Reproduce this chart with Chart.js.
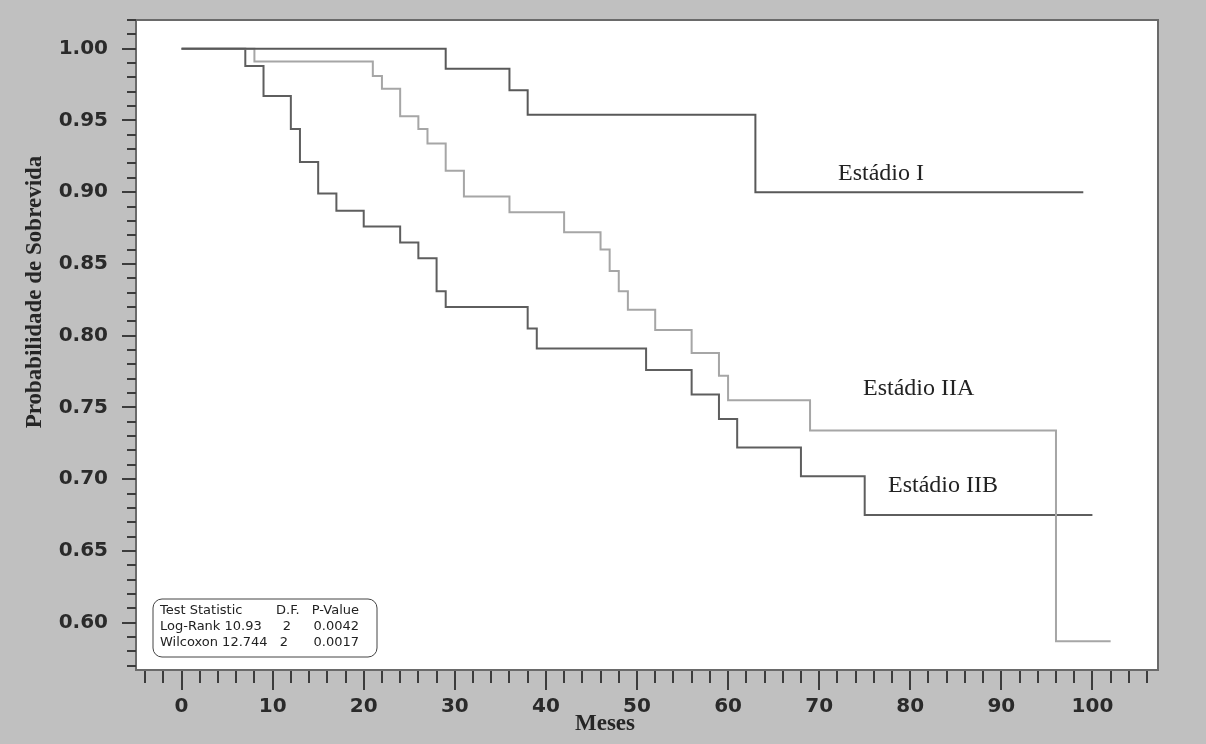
<!DOCTYPE html>
<html lang="pt">
<head>
<meta charset="UTF-8">
<title>Probabilidade de Sobrevida</title>
<script src="https://cdn.jsdelivr.net/npm/chart.js"></script>
<style>
  body { margin: 0; background: #c0c0c0; }
  #wrap { width: 1206px; height: 744px; }
</style>
</head>
<body>
<div id="wrap"><canvas id="myChart" width="1206" height="744"></canvas></div>
<script>
// meses e probabilidade de sobrevida
const mesesI = [0, 29, 36, 38, 63, 99];
const survI = [1.000, 0.986, 0.971, 0.954, 0.900, 0.900];

const mesesIIA = [0, 8, 21, 22, 24, 26, 27, 29, 31, 36, 42, 46, 47, 48, 49, 52, 56, 59, 60, 69, 96, 102];
const survIIA = [1.000, 0.991, 0.981, 0.972, 0.953, 0.944, 0.934, 0.915, 0.897, 0.886, 0.872, 0.860, 0.845, 0.831, 0.818, 0.804, 0.788, 0.772, 0.755, 0.734, 0.587, 0.587];

const mesesIIB = [0, 7, 9, 12, 13, 15, 17, 20, 24, 26, 28, 29, 38, 39, 51, 56, 59, 61, 68, 75, 100];
const survIIB = [1.000, 0.988, 0.967, 0.944, 0.921, 0.899, 0.887, 0.876, 0.865, 0.854, 0.831, 0.820, 0.805, 0.791, 0.776, 0.759, 0.742, 0.722, 0.702, 0.675, 0.675];

const xTicks = [0, 10, 20, 30, 40, 50, 60, 70, 80, 90, 100];
const yTicks = [0.60, 0.65, 0.70, 0.75, 0.80, 0.85, 0.90, 0.95, 1.00];

const testRows = [
  ['Test Statistic', 'D.F.', 'P-Value'],
  ['Log-Rank 10.93', '2', '0.0042'],
  ['Wilcoxon 12.744', '2', '0.0017']
];

const toPoints = (xs, ys) => xs.map((m, i) => ({ x: m, y: ys[i] }));

const tickFont = { family: '"DejaVu Sans", sans-serif', size: 20, weight: 'bold' };

const moldura = {
  id: 'moldura',
  beforeDraw(chart) {
    const { ctx, chartArea: a } = chart;
    ctx.save();
    ctx.fillStyle = '#c0c0c0';
    ctx.fillRect(0, 0, chart.width, chart.height);
    ctx.fillStyle = '#ffffff';
    ctx.fillRect(a.left, a.top, a.right - a.left, a.bottom - a.top);
    ctx.restore();
  },
  afterDraw(chart) {
    const { ctx, chartArea: a, scales: { x, y } } = chart;
    ctx.save();

    // frame
    ctx.strokeStyle = '#6a6a6a';
    ctx.lineWidth = 2;
    ctx.strokeRect(a.left, a.top, a.right - a.left, a.bottom - a.top);

    // tick marks (minor every 0.01 / 2 months)
    ctx.strokeStyle = '#3c3c3c';
    for (let i = 57; i <= 102; i++) {
      const py = Math.round(y.getPixelForValue(i / 100));
      const len = i % 5 === 0 ? 14 : 9;
      ctx.beginPath();
      ctx.moveTo(a.left - len, py);
      ctx.lineTo(a.left, py);
      ctx.stroke();
    }
    for (let m = -4; m <= 106; m += 2) {
      const px = Math.round(x.getPixelForValue(m));
      const len = m % 10 === 0 ? 19 : 12;
      ctx.beginPath();
      ctx.moveTo(px, a.bottom + 1);
      ctx.lineTo(px, a.bottom + 1 + len);
      ctx.stroke();
    }

    // axis titles
    ctx.fillStyle = '#262626';
    ctx.font = 'bold 23px "Liberation Serif", serif';
    ctx.textAlign = 'center';
    ctx.textBaseline = 'middle';
    ctx.fillText('Meses', 605, 724);
    ctx.save();
    ctx.translate(35, 292);
    ctx.rotate(-Math.PI / 2);
    ctx.fillText('Probabilidade de Sobrevida', 0, 0);
    ctx.restore();

    // curve names
    ctx.font = '24px "Liberation Serif", serif';
    ctx.textAlign = 'left';
    ctx.textBaseline = 'alphabetic';
    ctx.fillStyle = '#222';
    ctx.fillText('Estádio I', 838, 180);
    ctx.fillText('Estádio IIA', 863, 395);
    ctx.fillText('Estádio IIB', 888, 492);

    // test box
    const bx = 153, by = 599, bw = 224, bh = 58;
    ctx.beginPath();
    ctx.roundRect(bx, by, bw, bh, 9);
    ctx.fillStyle = '#fff';
    ctx.fill();
    ctx.lineWidth = 1;
    ctx.strokeStyle = '#444';
    ctx.stroke();

    ctx.fillStyle = '#222';
    ctx.font = '13px "DejaVu Sans", sans-serif';
    ctx.textBaseline = 'middle';
    const rowY = [611, 627, 643];
    testRows.forEach((row, i) => {
      ctx.textAlign = 'left';
      ctx.fillText(row[0], 160, rowY[i]);
      if (i === 0) {
        ctx.fillText(row[1], 276, rowY[i]);
      } else {
        ctx.textAlign = 'center';
        ctx.fillText(row[1], i === 1 ? 287 : 284, rowY[i]);
      }
      ctx.textAlign = 'right';
      ctx.fillText(row[2], 359, rowY[i]);
    });

    ctx.restore();
  }
};

const ctx = document.getElementById('myChart');
const myChart = new Chart(ctx, {
  type: 'line',
  data: {
    datasets: [{
      label: 'Estádio I',
      data: toPoints(mesesI, survI),
      borderColor: '#595959',
      borderWidth: 2,
      stepped: true,
      pointRadius: 0
    }, {
      label: 'Estádio IIA',
      data: toPoints(mesesIIA, survIIA),
      borderColor: '#a6a6a6',
      borderWidth: 2,
      stepped: true,
      pointRadius: 0
    }, {
      label: 'Estádio IIB',
      data: toPoints(mesesIIB, survIIB),
      borderColor: '#5e5e5e',
      borderWidth: 2,
      stepped: true,
      pointRadius: 0
    }]
  },
  options: {
    responsive: false,
    animation: false,
    devicePixelRatio: 1,
    layout: { padding: { top: 20, right: 48, left: 0, bottom: 0 } },
    plugins: {
      legend: { display: false },
      tooltip: { enabled: false }
    },
    scales: {
      x: {
        type: 'linear',
        min: -5,
        max: 107.2,
        afterBuildTicks: (s) => { s.ticks = xTicks.map(v => ({ value: v })); },
        afterFit: (s) => { s.height = 74; s.paddingLeft = 0; s.paddingRight = 0; },
        grid: { display: false, drawTicks: false },
        border: { display: false },
        ticks: {
          padding: 25,
          color: '#2a2a2a',
          font: tickFont,
          maxRotation: 0,
          autoSkip: false,
          callback: (v) => String(v)
        }
      },
      y: {
        type: 'linear',
        min: 0.567,
        max: 1.02,
        afterBuildTicks: (s) => { s.ticks = yTicks.map(v => ({ value: v })); },
        afterFit: (s) => { s.width = 136; s.paddingTop = 0; s.paddingBottom = 0; },
        grid: { display: false, drawTicks: false },
        border: { display: false },
        ticks: {
          padding: 28,
          color: '#2a2a2a',
          font: tickFont,
          autoSkip: false,
          callback: (v) => v.toFixed(2)
        }
      }
    }
  },
  plugins: [moldura]
});
</script>
</body>
</html>
